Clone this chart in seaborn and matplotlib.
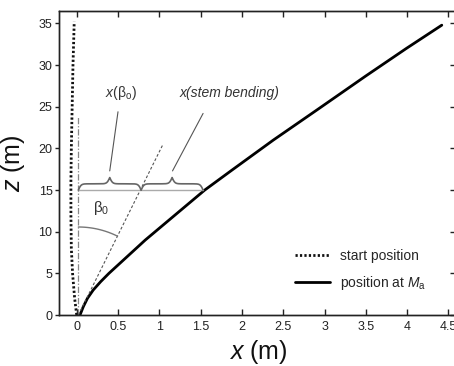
import numpy as np
import pandas as pd
import matplotlib
matplotlib.use("Agg")
import matplotlib.pyplot as plt
import seaborn as sns

# ---- data ----
start_x = [0.0, -0.025, -0.05, -0.065, -0.07, -0.07, -0.065, -0.055, -0.045, -0.03]
start_z = [0.0, 2.0, 5.0, 8.0, 12.0, 16.0, 20.0, 25.0, 30.0, 35.2]

ma_x = [0.04, 0.08, 0.13, 0.20, 0.29, 0.39, 0.50, 0.61, 0.72, 0.83, 0.95,
        1.19, 1.37, 1.55, 1.88, 2.38, 2.92, 3.50, 3.99, 4.42]
ma_z = [0.0, 1.0, 2.0, 3.0, 4.0, 5.0, 6.0, 7.0, 8.0, 9.0, 10.0,
        12.0, 13.5, 15.0, 17.4, 21.0, 24.7, 28.7, 32.0, 34.8]

vert_x = [0.02, 0.02]          # dash-dot vertical reference
vert_z = [0.0, 23.8]
tilt_x = [0.02, 1.04]          # dashed line at angle beta0
tilt_z = [0.0, 20.4]

x_ticks = [0, 0.5, 1, 1.5, 2, 2.5, 3, 3.5, 4, 4.5]
x_tick_labels = ["0", "0.5", "1", "1.5", "2", "2.5", "3", "3.5", "4", "4.5"]
y_ticks = [0, 5, 10, 15, 20, 25, 30, 35]

legend_labels = ["start position", r"position at $M_{\mathrm{a}}$"]

# ---- style ----
sns.set_theme(style="white")
plt.rcParams["font.family"] = ["Liberation Sans", "DejaVu Sans"]
plt.rcParams["mathtext.fontset"] = "custom"
plt.rcParams["mathtext.rm"] = "Liberation Sans"
plt.rcParams["mathtext.it"] = "Liberation Sans:italic"
plt.rcParams["mathtext.bf"] = "Liberation Sans:bold"

W, H = 454, 366
fig = plt.figure(figsize=(W / 100, H / 100), dpi=100)
left_px, right_px, top_px, bot_px = 59.5, 456, 11, 315
ax = fig.add_axes([left_px / W, 1 - bot_px / H, (right_px - left_px) / W, (bot_px - top_px) / H])

df_start = pd.DataFrame({"x": start_x, "z": start_z})
df_ma = pd.DataFrame({"x": ma_x, "z": ma_z})

sns.lineplot(data=df_start, x="x", y="z", sort=False, estimator=None, ax=ax,
             color="#111111", lw=2.0, linestyle=(0, (0.8, 0.8)), label=legend_labels[0])
sns.lineplot(data=df_ma, x="x", y="z", sort=False, estimator=None, ax=ax,
             color="#000000", lw=2.0, label=legend_labels[1])

# reference lines
ax.plot(vert_x, vert_z, color="#888888", lw=0.9, linestyle=(0, (5, 1.5, 1, 1.5)))
ax.plot(tilt_x, tilt_z, color="#555555", lw=0.8, linestyle=(0, (2.5, 1.8)))

# horizontal gray line at z=15 and braces
ax.plot([0.02, 1.53], [15.0, 15.0], color="#aaaaaa", lw=1.0)


def brace(x1, x2, y0, h, beta=60.0, n=301):
    xs = np.linspace(x1, x2, n)
    half = xs[: n // 2 + 1]
    yh = 1 / (1 + np.exp(-beta * (half - half[0]))) + 1 / (1 + np.exp(-beta * (half - half[-1])))
    yy = np.concatenate((yh, yh[-2::-1]))
    return xs, y0 + (yy - 0.5) * h


for a, b in [(0.02, 0.78), (0.78, 1.53)]:
    bx, by = brace(a, b, 15.0, 1.5)
    ax.plot(bx, by, color="#666666", lw=1.2)

# leader lines to labels
ax.plot([0.40, 0.50], [17.3, 24.4], color="#555555", lw=0.8)
ax.plot([1.16, 1.53], [17.3, 24.2], color="#555555", lw=0.8)

ax.text(0.54, 26.6, r"$x$(β$_{\mathrm{o}}$)", ha="center", va="center", fontsize=10, color="#333333")
ax.text(1.25, 26.6, "x(stem bending)", ha="left", va="center", fontsize=10, color="#333333", style="italic")

# beta0 arc (circular in screen space)
px_per_x = 82.6
px_per_z = 304 / 36.5
r_px = 88
t = np.deg2rad(np.linspace(63.6, 90, 50))
ax.plot(0.02 + r_px / px_per_x * np.cos(t), r_px / px_per_z * np.sin(t), color="#777777", lw=1.0)
ax.text(0.30, 12.8, r"β$_0$", ha="center", va="center", fontsize=11, color="#333333")

# axes
xmin = (left_px - 76.7) / px_per_x
xmax = (right_px - 76.7) / px_per_x
ax.set_xlim(xmin, xmax)
ax.set_ylim(0, 36.5)
ax.set_xticks(x_ticks)
ax.set_xticklabels(x_tick_labels)
ax.set_yticks(y_ticks)
ax.tick_params(axis="x", direction="in", top=True, bottom=True, length=4, width=1,
               color="#222222", labelsize=9, labelcolor="#222222", pad=4)
ax.tick_params(axis="y", direction="out", left=True, length=3, width=1,
               color="#222222", labelsize=9, labelcolor="#222222", pad=2)
ax2 = ax.twinx()
ax2.set_ylim(0, 36.5)
ax2.set_yticks(y_ticks)
ax2.tick_params(axis="y", direction="in", right=True, length=4, width=1, color="#222222", labelright=False)
for a_ in (ax, ax2):
    for s in a_.spines.values():
        s.set_color("#222222")
        s.set_linewidth(1.0)

ax.set_xlabel(r"$x$ (m)", fontsize=18, labelpad=4, color="#111111")
ax.set_ylabel(r"$z$ (m)", fontsize=18, labelpad=8, color="#111111")

leg = ax.legend(loc="lower right", bbox_to_anchor=(0.955, 0.034), frameon=False, fontsize=10,
                handlelength=2.5, handletextpad=0.7, labelspacing=0.8)

fig.savefig("out.png", dpi=100)
